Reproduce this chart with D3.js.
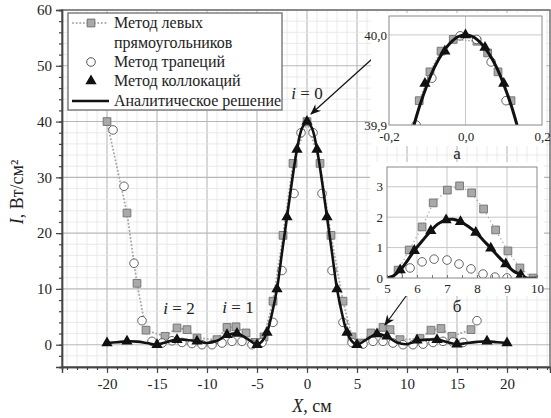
<!DOCTYPE html>
<html><head><meta charset="utf-8">
<script src="https://cdn.jsdelivr.net/npm/d3@7"></script>
<style>
body{margin:0;background:#fff;}
svg text{font-family:"Liberation Serif","Tinos","DejaVu Serif","Times New Roman",serif !important;fill:#222;}
</style></head>
<body><svg id="c" width="551" height="418"></svg>
<script>
// ---------- DATA ----------
const xTicksMain = [-20,-15,-10,-5,0,5,10,15,20];
const yTicksMain = [0,10,20,30,40,50,60];

// left rectangles (main)
const rectX = [-20,-18,-17,-16.1,-14.2,-13,-12,-11,-9,-8,-7.1,-6.1,-5.2,-4.3,-3.4,-2.4,-1.4,0,1.3,2.4,3.6,4.5,5.4,6.4,7.6,8.3,9.3,11.3,12.4,13.4,14.5,16.4];
const rectY = [40,23.6,11,2.6,1.5,3.0,2.7,1.2,0.9,3.1,3.2,2.1,0.4,1.4,7.8,19.6,32.5,40,32.5,19.6,7.8,1.4,0.3,2.1,3.1,2.7,0.9,1.1,2.6,2.9,1.5,2.7];
// trapezoids (main)
const circX = [-19.4,-18.3,-17.3,-16.5,-15.5,-14.5,-13.5,-12.5,-11.5,-10.5,-9.5,-8.5,-7.5,-6.5,-5.5,-4.5,-3.4,-2.5,-1.3,-0.6,0.6,1.5,2.5,3.6,4.5,5.6,6.6,7.6,8.6,9.6,10.6,11.6,12.6,13.6,14.6,15.6,17.0];
const circY = [38.5,28.4,14.6,4.3,0.6,0.3,0.7,0.4,0.2,0,0,0.3,0.6,0.6,0,0.4,4.0,13.3,27.1,38,38,27.1,13.3,4.0,0.4,0.1,0.6,0.6,0.3,0,0,0.1,0.4,0.6,0.5,0.4,4.3];
// collocation (main)
const triX = [-20,-18,-15,-13,-11,-8,-7,-5,-4,-3,-2,-1,0,1,2,3,4,5,7,8,11,13,15,18,20];
const triY = [0.3,0.6,0.0,0.9,0.6,1.8,2.0,0.0,2.2,10,22.9,35,40,35,22.9,10,2.2,0.0,1.9,1.5,0.8,0.9,0.1,0.6,0.3];
// analytic (main)
const anX = [-20,-19,-18,-17,-16,-15,-14,-13,-12,-11,-10,-9,-8,-7,-6,-5,-4.5,-4,-3.5,-3,-2.5,-2,-1.5,-1,-0.5,0,0.5,1,1.5,2,2.5,3,3.5,4,4.5,5,6,7,8,9,10,11,12,13,14,15,16,17,18,19,20];
const anY = [0.3,0.45,0.6,0.55,0.3,0.0,0.5,0.9,0.85,0.6,0.3,0.7,1.7,2.0,1.1,0.0,0.6,2.2,5.6,10,16.5,22.9,29.3,35,38.8,40,38.8,35,29.3,22.9,16.5,10,5.6,2.2,0.6,0.0,1.0,1.9,1.45,0.4,0.1,0.7,0.9,0.9,0.5,0.05,0.3,0.5,0.6,0.45,0.3];

// inset a
const aTickX = [-0.2,0,0.2];
const aTickXLabels = ["-0,2","0,0","0,2"];
const aTickY = [39.9,40.0];
const aTickYLabels = ["39,9","40,0"];
const aRectX = [-0.121,-0.093,-0.064,-0.032,0.03,0.058,0.085,0.119];
const aRectY = [39.927,39.959,39.982,39.995,39.993,39.98,39.959,39.927];
const aCircX = [-0.129,-0.088,-0.014,0.029,0.067,0.106];
const aCircY = [39.9,39.952,39.999,39.995,39.97,39.927];
const aTriX = [-0.106,-0.054,0,0.051,0.1];
const aTriY = [39.946,39.982,40.0,39.986,39.946];
const aAnX = [-0.15,-0.14,-0.12,-0.1,-0.08,-0.06,-0.04,-0.02,0,0.02,0.04,0.06,0.08,0.1,0.12,0.14,0.15];
const aAnY = [39.877,39.892,39.921,39.945,39.965,39.980,39.991,39.998,40.0,39.998,39.991,39.980,39.965,39.945,39.921,39.892,39.877];

// inset b
const bTickX = [5,6,7,8,9,10];
const bTickY = [0,1,2,3];
const bRectX = [5.37,5.74,6.17,6.54,7.01,7.42,7.82,8.22,8.62,9.03,9.43,9.87];
const bRectY = [0.26,0.92,1.68,2.47,2.89,3.03,2.8,2.27,1.58,0.89,0.33,0.0];
const bCircX = [5.37,5.77,6.17,6.57,7.0,7.4,7.8,8.2,8.6,9.0];
const bCircY = [0.07,0.33,0.53,0.62,0.59,0.46,0.3,0.13,0.03,0.0];
const bTriX = [5.44,5.91,6.46,6.97,7.45,7.96,8.46,8.96,9.46];
const bTriY = [0.26,0.9,1.55,1.91,1.85,1.5,0.98,0.46,0.1];
const bAnX = [5.0,5.2,5.44,5.7,5.91,6.2,6.46,6.7,6.97,7.2,7.45,7.7,7.96,8.2,8.46,8.7,8.96,9.2,9.46,9.65,10];
const bAnY = [0.0,0.06,0.26,0.6,0.9,1.25,1.55,1.78,1.91,1.93,1.85,1.7,1.5,1.25,0.98,0.72,0.46,0.24,0.1,0.0,0.0];

const legendLabels = ["Метод левых","прямоугольников","Метод трапеций","Метод коллокаций","Аналитическое решение"];

// ---------- DRAW ----------
const FONT = '"Liberation Serif","Tinos","DejaVu Serif",serif';
const svg = d3.select("#c").attr("font-family",FONT);
const zip = (X,Y)=>X.map((x,i)=>[x,Y[i]]);
const sqr = d3.symbol(d3.symbolSquare);
const tri = d3.symbol(d3.symbolTriangle);

const x = d3.scaleLinear().domain([-24.5,24.3]).range([62,550]);
const y = d3.scaleLinear().domain([-4,60]).range([367,10]);

// grid
const g = svg.append("g");
g.selectAll(".vx").data(d3.range(-24,25,1)).enter().append("line")
 .attr("x1",d=>x(d)).attr("x2",d=>x(d)).attr("y1",y(-4)).attr("y2",y(60))
 .attr("stroke",d=>d%5===0?"#b8b8b8":"#e4e4e4").attr("stroke-width",d=>d%5===0?1.1:0.8);
g.selectAll(".hy").data(d3.range(-4,61,2)).enter().append("line")
 .attr("y1",d=>y(d)).attr("y2",d=>y(d)).attr("x1",x.range()[0]).attr("x2",x.range()[1])
 .attr("stroke",d=>d%10===0?"#b8b8b8":"#e4e4e4").attr("stroke-width",d=>d%10===0?1.1:0.8);

// frame
svg.append("rect").attr("x",62).attr("y",10).attr("width",488).attr("height",357)
 .attr("fill","none").attr("stroke","#666").attr("stroke-width",1.4);

function styleAxis(a){
  a.attr("font-family",FONT);
  a.select(".domain").attr("stroke","#444").attr("stroke-width",1.4);
  a.selectAll("line").attr("stroke","#444").attr("stroke-width",1.2);
  a.selectAll("text").attr("font-size",15).attr("fill","#222").attr("font-family",FONT);
}
// axes
const xAxis = d3.axisBottom(x).tickValues(xTicksMain).tickFormat(d=>String(d)).tickSize(6).tickPadding(5);
const xMinor = d3.axisBottom(x).tickValues(d3.range(-24,25,1)).tickFormat("").tickSize(3);
const gx = svg.append("g").attr("transform",`translate(0,${y(-4)})`).call(xMinor);
const gx2 = svg.append("g").attr("transform",`translate(0,${y(-4)})`).call(xAxis);
styleAxis(gx); styleAxis(gx2);

const yAxis = d3.axisLeft(y).tickValues(yTicksMain).tickFormat(d=>String(d)).tickSize(6).tickPadding(4);
const yMinor = d3.axisLeft(y).tickValues(d3.range(-4,61,2)).tickFormat("").tickSize(3);
const gy = svg.append("g").attr("transform",`translate(62,0)`).call(yMinor);
const gy2 = svg.append("g").attr("transform",`translate(62,0)`).call(yAxis);
styleAxis(gy); styleAxis(gy2);

// axis titles
const xt = svg.append("text").attr("x",312).attr("y",412).attr("text-anchor","middle").attr("font-size",18);
xt.append("tspan").attr("font-style","italic").text("X");
xt.append("tspan").text(", см");
const yt = svg.append("text").attr("transform","translate(23,192) rotate(-90)").attr("text-anchor","middle").attr("font-size",18);
yt.append("tspan").attr("font-style","italic").text("I");
yt.append("tspan").text(", Вт/см²");

// series drawing helper
function drawSeries(root, xs, ys, R, T, Q, AN, opt){
  const c = root.append("g").attr("clip-path",`url(#${opt.clip})`);
  const lineR = d3.line().x(d=>xs(d[0])).y(d=>ys(d[1]));
  c.append("path").datum(R).attr("d",lineR).attr("fill","none").attr("stroke","#a8a8a8")
   .attr("stroke-width",opt.dotW).attr("stroke-dasharray",opt.dash).attr("stroke-linecap","round");
  c.selectAll(".sq").data(R).enter().append("path")
   .attr("transform",d=>`translate(${xs(d[0])},${ys(d[1])})`).attr("d",sqr.size(opt.sq))
   .attr("fill","#a9a9a9").attr("stroke","#6f6f6f").attr("stroke-width",0.9);
  c.selectAll(".ci").data(T).enter().append("circle")
   .attr("cx",d=>xs(d[0])).attr("cy",d=>ys(d[1])).attr("r",opt.r)
   .attr("fill","#fff").attr("stroke","#555").attr("stroke-width",0.9);
  const lineA = d3.line().x(d=>xs(d[0])).y(d=>ys(d[1])).curve(d3.curveCatmullRom.alpha(0.5));
  c.append("path").datum(AN).attr("d",lineA).attr("fill","none").attr("stroke","#111").attr("stroke-width",opt.lw);
  c.selectAll(".tr").data(Q).enter().append("path")
   .attr("transform",d=>`translate(${xs(d[0])},${ys(d[1])})`).attr("d",tri.size(opt.tri)).attr("fill","#111");
}
const defs = svg.append("defs");
defs.append("clipPath").attr("id","cm").append("rect").attr("x",62).attr("y",10).attr("width",488).attr("height",357);

drawSeries(svg, x, y, zip(rectX,rectY), zip(circX,circY), zip(triX,triY), zip(anX,anY),
  {clip:"cm",dotW:2,dash:"0.1,3.5",sq:60,r:4.3,lw:2.6,tri:55});

// labels i=
function iLabel(cx,cy,n){
  const t = svg.append("text").attr("x",cx).attr("y",cy).attr("text-anchor","middle").attr("font-size",17);
  t.append("tspan").attr("font-style","italic").text("i");
  t.append("tspan").text(" = "+n);
}
iLabel(307,99,"0"); iLabel(238,313,"1"); iLabel(179,314,"2");

// arrows
defs.append("marker").attr("id","ah").attr("viewBox","0 0 10 10").attr("refX",9).attr("refY",5)
 .attr("markerWidth",9).attr("markerHeight",9).attr("orient","auto")
 .append("path").attr("d","M0,1 L10,5 L0,9 L3,5 Z").attr("fill","#111");
svg.append("line").attr("x1",382).attr("y1",50).attr("x2",311).attr("y2",114)
 .attr("stroke","#111").attr("stroke-width",1.2).attr("marker-end","url(#ah)");
svg.append("line").attr("x1",409).attr("y1",292).attr("x2",385).attr("y2",325)
 .attr("stroke","#111").attr("stroke-width",1.2).attr("marker-end","url(#ah)");

// legend
const lg = svg.append("g");
lg.append("rect").attr("x",68).attr("y",13).attr("width",214).attr("height",97)
 .attr("fill","#fff").attr("stroke","#777").attr("stroke-width",1.4);
const rowY = [23,43,62,81,101];
lg.append("line").attr("x1",73).attr("x2",108).attr("y1",rowY[0]).attr("y2",rowY[0])
 .attr("stroke","#a8a8a8").attr("stroke-width",2).attr("stroke-dasharray","0.1,3.5").attr("stroke-linecap","round");
lg.append("path").attr("transform",`translate(91,${rowY[0]})`).attr("d",sqr.size(60)).attr("fill","#a9a9a9").attr("stroke","#6f6f6f");
lg.append("circle").attr("cx",91).attr("cy",rowY[2]).attr("r",4.3).attr("fill","#fff").attr("stroke","#555");
lg.append("path").attr("transform",`translate(91,${rowY[3]})`).attr("d",tri.size(55)).attr("fill","#111");
lg.append("line").attr("x1",72).attr("x2",109).attr("y1",rowY[4]).attr("y2",rowY[4]).attr("stroke","#111").attr("stroke-width",2.6);
legendLabels.forEach((t,i)=>{
  lg.append("text").attr("x",114).attr("y",rowY[i]+5).attr("font-size",16).text(t);
});

// ---------- inset a ----------
const ia = svg.append("g");
ia.append("rect").attr("x",371).attr("y",13).attr("width",175).attr("height",133).attr("fill","#fff");
const xa = d3.scaleLinear().domain([-0.2,0.2]).range([389,542]);
const ya = d3.scaleLinear().domain([39.9,40.021]).range([125,16]);
ia.append("line").attr("x1",xa(0)).attr("x2",xa(0)).attr("y1",ya.range()[0]).attr("y2",ya.range()[1]).attr("stroke","#c8c8c8");
ia.append("line").attr("y1",ya(40)).attr("y2",ya(40)).attr("x1",389).attr("x2",542).attr("stroke","#c8c8c8");
defs.append("clipPath").attr("id","ca").append("rect").attr("x",389).attr("y",16).attr("width",153).attr("height",109);
drawSeries(ia, xa, ya, zip(aRectX,aRectY), zip(aCircX,aCircY), zip(aTriX,aTriY), zip(aAnX,aAnY),
  {clip:"ca",dotW:1.6,dash:"0.1,3",sq:60,r:4.3,lw:3,tri:55});
ia.append("rect").attr("x",389).attr("y",16).attr("width",153).attr("height",109).attr("fill","none").attr("stroke","#888").attr("stroke-width",1);
const axA = ia.append("g").attr("transform","translate(0,125)")
 .call(d3.axisBottom(xa).tickValues(aTickX).tickFormat((d,i)=>aTickXLabels[i]).tickSize(0).tickPadding(7));
axA.select(".domain").remove();
axA.attr("font-family",FONT).selectAll("text").attr("font-size",13).attr("font-family",FONT).attr("fill","#222");
const ayA = ia.append("g").attr("transform","translate(389,0)")
 .call(d3.axisLeft(ya).tickValues(aTickY).tickFormat((d,i)=>aTickYLabels[i]).tickSize(0).tickPadding(2));
ayA.select(".domain").remove();
ayA.attr("font-family",FONT).selectAll("text").attr("font-size",13).attr("font-family",FONT).attr("fill","#222");
svg.append("text").attr("x",457).attr("y",159).attr("text-anchor","middle").attr("font-size",17).text("а");

// ---------- inset b ----------
const ib = svg.append("g");
ib.append("rect").attr("x",370).attr("y",162).attr("width",174).attr("height",134).attr("fill","#fff");
const xb = d3.scaleLinear().domain([5,10]).range([387,537]);
const yb = d3.scaleLinear().domain([0,3.65]).range([278,167]);
ib.selectAll(".gv").data([6,7,8,9]).enter().append("line").attr("x1",d=>xb(d)).attr("x2",d=>xb(d))
 .attr("y1",278).attr("y2",167).attr("stroke","#c8c8c8");
ib.selectAll(".gh").data([1,2,3]).enter().append("line").attr("y1",d=>yb(d)).attr("y2",d=>yb(d))
 .attr("x1",387).attr("x2",537).attr("stroke","#c8c8c8");
defs.append("clipPath").attr("id","cb").append("rect").attr("x",387).attr("y",167).attr("width",150).attr("height",111);
drawSeries(ib, xb, yb, zip(bRectX,bRectY), zip(bCircX,bCircY), zip(bTriX,bTriY), zip(bAnX,bAnY),
  {clip:"cb",dotW:1.4,dash:"0.1,4",sq:60,r:4.3,lw:3,tri:55});
ib.append("rect").attr("x",387).attr("y",167).attr("width",150).attr("height",111).attr("fill","none").attr("stroke","#888").attr("stroke-width",1);
const axB = ib.append("g").attr("transform","translate(0,278)")
 .call(d3.axisBottom(xb).tickValues(bTickX).tickFormat(d=>String(d)).tickSize(0).tickPadding(6));
axB.select(".domain").remove();
axB.attr("font-family",FONT).selectAll("text").attr("font-size",13).attr("font-family",FONT).attr("fill","#222");
ib.append("g").attr("transform","translate(0,278)")
 .call(d3.axisTop(xb).tickValues(d3.range(5,10.01,0.5)).tickFormat("").tickSize(3))
 .call(a=>{a.select(".domain").remove();a.selectAll("line").attr("stroke","#777");});
const ayB = ib.append("g").attr("transform","translate(387,0)")
 .call(d3.axisLeft(yb).tickValues(bTickY).tickFormat(d=>String(d)).tickSize(0).tickPadding(4));
ayB.select(".domain").remove();
ayB.attr("font-family",FONT).selectAll("text").attr("font-size",13).attr("font-family",FONT).attr("fill","#222");
svg.append("text").attr("x",457).attr("y",312).attr("text-anchor","middle").attr("font-size",17).text("б");
</script></body></html>
